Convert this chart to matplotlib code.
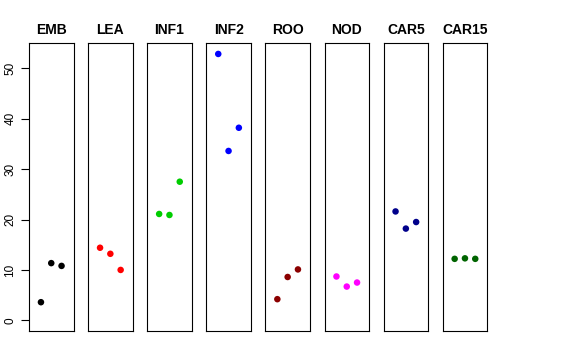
import matplotlib
matplotlib.use("Agg")
import matplotlib.pyplot as plt

tissues = ["EMB", "LEA", "INF1", "INF2", "ROO", "NOD", "CAR5", "CAR15"]
colors = ["black", "#FF0000", "#00CD00", "#0000FF", "#8B0000", "#FF00FF", "#00008B", "#006400"]
emb = [3.6, 11.35, 10.8]
lea = [14.4, 13.2, 10.0]
inf1 = [21.1, 20.9, 27.5]
inf2 = [52.84, 33.6, 38.2]
roo = [4.2, 8.6, 10.1]
nod = [8.7, 6.7, 7.5]
car5 = [21.6, 18.2, 19.5]
car15 = [12.2, 12.3, 12.2]
values = [emb, lea, inf1, inf2, roo, nod, car5, car15]
reps = [1, 2, 3]
yticks = [0, 10, 20, 30, 40, 50]

plt.rcParams['font.family'] = ['Liberation Sans', 'DejaVu Sans']
W, H = 576, 360
fig = plt.figure(figsize=(W / 100, H / 100), dpi=100)

ymax = max(max(v) for v in values)
ylo, yhi = 0 - 0.04 * ymax, ymax + 0.04 * ymax
left0, step, pw = 29.0, 59.1, 44.5
top, bottom = 43.3, 331.0

for i, (name, col, vals) in enumerate(zip(tissues, colors, values)):
    x0 = left0 + i * step
    ax = fig.add_axes([x0 / W, (H - bottom) / H, pw / W, (bottom - top) / H])
    ax.scatter(reps, vals, s=22, color=col, edgecolors='none', zorder=3)
    ax.set_xlim(-0.16, 4.16)
    ax.set_ylim(ylo, yhi)
    ax.set_xticks([])
    for sp in ax.spines.values():
        sp.set_linewidth(0.8)
        sp.set_color('black')
    ax.set_title(name, fontsize=10, fontweight='bold', pad=7)
    if i == 0:
        ax.set_yticks(yticks)
        ax.set_yticklabels([str(t) for t in yticks], rotation=90, va='center', fontsize=8.5)
        ax.tick_params(axis='y', length=6, width=0.8, pad=3)
        ax.spines['left'].set_visible(True)
    else:
        ax.set_yticks([])

fig.savefig("out.png", dpi=100)
